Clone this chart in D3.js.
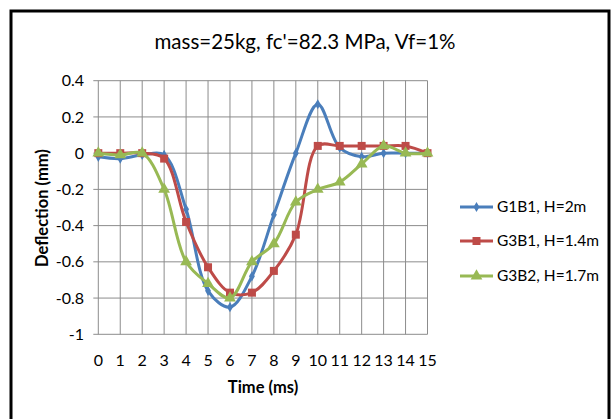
<!DOCTYPE html>
<html lang="en">
<head>
  <meta charset="UTF-8">
  <title>mass=25kg, fc'=82.3 MPa, Vf=1%</title>
  <script src="https://d3js.org/d3.v7.min.js"></script>
  <style>
    body { margin: 0; background: #fff; font-family: Lato, sans-serif; }
    svg { display: block; }
  </style>
</head>
<body>
  <svg></svg>
  <script>
    const times = [0, 1, 2, 3, 4, 5, 6, 7, 8, 9, 10, 11, 12, 13, 14, 15];
    const g1b1 = [-0.02, -0.03, -0.01, -0.01, -0.31, -0.76, -0.85, -0.68, -0.34, 0, 0.27, 0.03, -0.02, 0, 0, 0];
    const g3b1 = [0, 0, 0, -0.03, -0.38, -0.63, -0.77, -0.77, -0.65, -0.45, 0.04, 0.04, 0.04, 0.04, 0.04, 0];
    const g3b2 = [0, -0.01, 0, -0.2, -0.6, -0.72, -0.8, -0.6, -0.5, -0.27, -0.2, -0.16, -0.06, 0.04, 0, 0];
    const yTicks = [0.4, 0.2, 0, -0.2, -0.4, -0.6, -0.8, -1];
    const seriesNames = ["G1B1, H=2m", "G3B1, H=1.4m", "G3B2, H=1.7m"];
    const colors = ["#4a7ebb", "#be4b48", "#98b954"];
    const symbols = [d3.symbolDiamond, d3.symbolSquare, d3.symbolTriangle];
    const symbolSizes = [30, 64, 60];

    const W = 613, H = 419;
    const svg = d3.select("svg").attr("width", W).attr("height", H);

    // chart frame
    svg.append("rect")
      .attr("x", 11).attr("y", 11)
      .attr("width", 598).attr("height", 420)
      .attr("fill", "#fff").attr("stroke", "#000").attr("stroke-width", 3);

    const x = d3.scaleLinear().domain([0, 15]).range([98.3, 427.5]);
    const y = d3.scaleLinear().domain([-1, 0.4]).range([334.3, 80.7]);

    const grid = svg.append("g").attr("stroke", "#8c8c8c").attr("stroke-width", 1);
    grid.selectAll("line.h").data(yTicks).join("line")
      .attr("x1", x(0) - 5).attr("x2", x(15))
      .attr("y1", d => y(d)).attr("y2", d => y(d));
    grid.selectAll("line.v").data(times).join("line")
      .attr("x1", d => x(d)).attr("x2", d => x(d))
      .attr("y1", y(0.4)).attr("y2", y(-1));

    svg.append("g")
      .attr("font-size", 16).attr("fill", "#000").attr("text-anchor", "end")
      .selectAll("text").data(yTicks).join("text")
      .attr("x", 84).attr("y", d => y(d)).attr("dy", "0.35em")
      .text(d => d3.format("")(d).replace("−", "-"));

    svg.append("g")
      .attr("font-size", 16).attr("text-anchor", "middle")
      .selectAll("text").data(times).join("text")
      .attr("x", d => x(d)).attr("y", 360).attr("dy", "0.35em")
      .text(d => d);

    svg.append("text")
      .attr("x", 305).attr("y", 42).attr("dy", "0.35em")
      .attr("text-anchor", "middle").attr("font-size", 20.5)
      .text("mass=25kg, fc'=82.3 MPa, Vf=1%");

    svg.append("text")
      .attr("x", 263).attr("y", 387).attr("dy", "0.35em")
      .attr("text-anchor", "middle").attr("font-size", 16.5).attr("font-weight", "bold")
      .text("Time (ms)");

    svg.append("text")
      .attr("transform", "translate(42,208) rotate(-90)")
      .attr("dy", "0.35em")
      .attr("text-anchor", "middle").attr("font-size", 16.5).attr("font-weight", "bold")
      .text("Deflection (mm)");

    const allSeries = [g1b1, g3b1, g3b2];
    const line = d3.line()
      .x((d, i) => x(times[i]))
      .y(d => y(d))
      .curve(d3.curveCatmullRom);

    allSeries.forEach((vals, k) => {
      const g = svg.append("g");
      g.append("path")
        .attr("d", line(vals))
        .attr("fill", "none")
        .attr("stroke", colors[k])
        .attr("stroke-width", 3)
        .attr("stroke-linejoin", "round");
      g.selectAll("path.m").data(vals).join("path")
        .attr("transform", (d, i) => `translate(${x(times[i])},${y(d)})`)
        .attr("d", d3.symbol().type(symbols[k]).size(symbolSizes[k]))
        .attr("fill", colors[k]);
    });

    // legend
    const legendY = [207, 241, 276];
    seriesNames.forEach((name, k) => {
      const g = svg.append("g");
      g.append("line")
        .attr("x1", 460).attr("x2", 493)
        .attr("y1", legendY[k]).attr("y2", legendY[k])
        .attr("stroke", colors[k]).attr("stroke-width", 3);
      g.append("path")
        .attr("transform", `translate(476.5,${legendY[k]})`)
        .attr("d", d3.symbol().type(symbols[k]).size(symbolSizes[k]))
        .attr("fill", colors[k]);
      g.append("text")
        .attr("x", 497).attr("y", legendY[k]).attr("dy", "0.35em")
        .attr("font-size", 15.5)
        .text(name);
    });
  </script>
</body>
</html>
